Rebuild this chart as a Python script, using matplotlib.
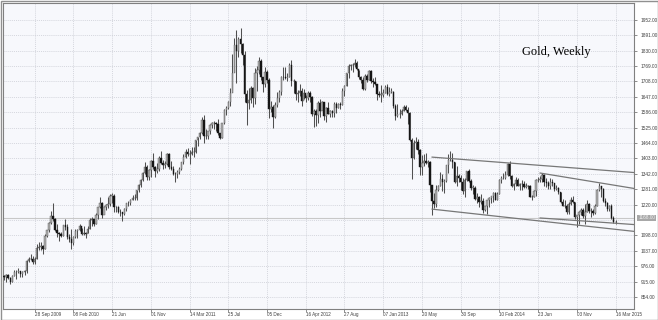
import matplotlib
matplotlib.use("Agg")
import matplotlib.pyplot as plt
from matplotlib.patches import Rectangle

# ---------------- data (weekly bars, 15 Jun 2009 .. 16 Mar 2015) ----------------
closes = [
    932, 940, 930, 913, 937, 953, 954, 956, 947, 953, 956, 996, 1006, 1005, 991,
    1003, 1049, 1051, 1057, 1045, 1095, 1118, 1147, 1175, 1161, 1118, 1108, 1104, 1096,
    # 2010
    1138, 1131, 1092, 1082, 1066, 1092, 1116, 1118, 1134, 1102, 1107, 1105, 1125,
    1160, 1161, 1142, 1180, 1209, 1228, 1177, 1212, 1218, 1222, 1256, 1256, 1210,
    1209, 1190, 1189, 1182, 1204, 1226, 1228, 1237, 1246, 1246, 1276, 1296, 1318,
    1345, 1369, 1328, 1358, 1394, 1367, 1353, 1362, 1406, 1385, 1376, 1379, 1421,
    # 2011
    1369, 1361, 1342, 1340, 1349, 1360, 1388, 1410, 1429, 1421, 1420, 1428, 1429,
    1474, 1487, 1504, 1556, 1491, 1492, 1511, 1536, 1542, 1543, 1539, 1502, 1483,
    1542, 1593, 1601, 1628, 1663, 1742, 1853, 1828, 1876, 1855, 1814, 1657, 1621,
    1635, 1683, 1643, 1742, 1755, 1788, 1724, 1696, 1746, 1712, 1598, 1605, 1566,
    # 2012
    1616, 1641, 1665, 1726, 1725, 1723, 1725, 1774, 1710, 1710, 1659, 1663, 1669,
    1632, 1660, 1643, 1663, 1645, 1580, 1592, 1573, 1622, 1591, 1628, 1572, 1604,
    1580, 1590, 1581, 1618, 1604, 1619, 1616, 1671, 1690, 1740, 1770, 1773, 1772,
    1782, 1758, 1724, 1712, 1676, 1731, 1714, 1751, 1711, 1705, 1696, 1657, 1656, 1656,
    # 2013
    1662, 1687, 1658, 1667, 1667, 1610, 1572, 1577, 1577, 1592, 1606, 1596,
    1581, 1477, 1405, 1463, 1468, 1437, 1367, 1386, 1392, 1383, 1387, 1296, 1234,
    1223, 1277, 1295, 1322, 1309, 1312, 1377, 1395, 1396, 1387, 1308, 1333, 1326, 1311,
    1273, 1316, 1352, 1315, 1287, 1287, 1244, 1250, 1230, 1235, 1197, 1214, 1237,
    # 2014
    1247, 1254, 1264, 1240, 1263, 1318, 1325, 1327, 1338, 1379, 1333, 1294, 1302,
    1318, 1294, 1300, 1300, 1290, 1293, 1292, 1250, 1252, 1274, 1316, 1316, 1320,
    1337, 1310, 1307, 1293, 1310, 1305, 1281, 1287, 1268, 1231, 1216, 1214, 1192,
    1222, 1238, 1231, 1171, 1177, 1190, 1198, 1175, 1190, 1222, 1195, 1195, 1187,
    # 2015
    1216, 1277, 1293, 1283, 1234, 1227, 1203, 1213, 1166, 1152, 1152,
]
highs = [
    942, 945, 946, 933, 942, 960, 959, 970, 955, 958, 960, 999, 1011, 1025, 1018,
    1012, 1062, 1070, 1072, 1059, 1102, 1121, 1150, 1195, 1226, 1166, 1143, 1111, 1111,
    1139, 1162, 1145, 1102, 1125, 1094, 1125, 1125, 1142, 1126, 1136, 1110, 1135,
    1167, 1170, 1156, 1185, 1210, 1249, 1232, 1215, 1222, 1251, 1260, 1265, 1262,
    1214, 1215, 1201, 1191, 1208, 1227, 1236, 1243, 1258, 1261, 1278, 1300, 1321,
    1349, 1388, 1377, 1361, 1398, 1425, 1373, 1383, 1412, 1432, 1397, 1392, 1424,
    1423, 1393, 1372, 1348, 1358, 1369, 1390, 1419, 1440, 1445, 1435, 1447, 1448,
    1476, 1487, 1508, 1566, 1576, 1519, 1513, 1539, 1549, 1550, 1548, 1558, 1505,
    1544, 1597, 1610, 1632, 1681, 1815, 1880, 1912, 1885, 1921, 1860, 1830, 1675,
    1680, 1689, 1685, 1760, 1770, 1803, 1796, 1720, 1764, 1752, 1723, 1631, 1613,
    1627, 1665, 1675, 1731, 1763, 1765, 1741, 1781, 1792, 1717, 1711, 1672, 1696,
    1681, 1676, 1656, 1669, 1669, 1649, 1598, 1597, 1632, 1640, 1630, 1627, 1605,
    1626, 1595, 1595, 1625, 1625, 1624, 1625, 1680, 1693, 1740, 1777, 1778, 1782,
    1796, 1787, 1755, 1731, 1725, 1737, 1738, 1755, 1754, 1723, 1725, 1696, 1670, 1693,
    1678, 1694, 1697, 1684, 1682, 1671, 1617, 1620, 1597, 1597, 1615, 1613,
    1605, 1588, 1485, 1476, 1487, 1480, 1440, 1416, 1420, 1424, 1395, 1392, 1299,
    1267, 1298, 1299, 1348, 1343, 1323, 1378, 1420, 1434, 1423, 1387, 1373, 1342, 1338,
    1325, 1327, 1355, 1361, 1323, 1297, 1295, 1264, 1253, 1261, 1248, 1216, 1240,
    1251, 1256, 1270, 1270, 1268, 1320, 1332, 1345, 1355, 1384, 1392, 1339, 1306,
    1331, 1327, 1306, 1316, 1315, 1306, 1299, 1296, 1257, 1279, 1322, 1330, 1332,
    1345, 1340, 1325, 1312, 1324, 1320, 1305, 1297, 1290, 1270, 1242, 1237, 1223,
    1231, 1250, 1255, 1232, 1177, 1196, 1208, 1205, 1222, 1238, 1225, 1205, 1202,
    1224, 1283, 1307, 1295, 1285, 1245, 1230, 1220, 1223, 1176, 1160,
]
lows = [
    922, 913, 925, 904, 915, 936, 927, 950, 935, 933, 940, 950, 991, 1002, 985,
    986, 1004, 1042, 1041, 1025, 1043, 1091, 1113, 1143, 1155, 1116, 1090, 1074, 1091,
    1094, 1120, 1085, 1072, 1044, 1058, 1086, 1086, 1114, 1101, 1098, 1088, 1107,
    1122, 1134, 1135, 1145, 1163, 1205, 1166, 1183, 1197, 1207, 1216, 1225, 1192,
    1189, 1185, 1176, 1157, 1180, 1194, 1213, 1220, 1240, 1237, 1240, 1271, 1290,
    1313, 1342, 1316, 1318, 1328, 1360, 1331, 1347, 1355, 1380, 1360, 1366, 1375,
    1360, 1358, 1338, 1309, 1324, 1342, 1356, 1382, 1405, 1413, 1381, 1418, 1408,
    1426, 1452, 1480, 1500, 1462, 1478, 1478, 1500, 1522, 1521, 1512, 1495, 1478,
    1483, 1540, 1576, 1598, 1612, 1675, 1746, 1702, 1806, 1822, 1771, 1627, 1535,
    1600, 1623, 1605, 1620, 1668, 1738, 1713, 1667, 1685, 1700, 1562, 1588, 1523,
    1564, 1606, 1628, 1656, 1714, 1718, 1708, 1724, 1689, 1662, 1635, 1627, 1652,
    1612, 1637, 1626, 1634, 1625, 1572, 1527, 1532, 1545, 1565, 1593, 1555, 1548,
    1578, 1565, 1567, 1565, 1584, 1603, 1598, 1614, 1651, 1689, 1723, 1754, 1745,
    1766, 1754, 1717, 1700, 1673, 1672, 1706, 1714, 1700, 1684, 1692, 1635, 1648, 1626,
    1645, 1660, 1655, 1650, 1660, 1601, 1554, 1565, 1562, 1576, 1591, 1590,
    1539, 1473, 1321, 1400, 1442, 1420, 1338, 1338, 1373, 1379, 1367, 1268, 1180,
    1207, 1212, 1275, 1292, 1274, 1267, 1310, 1346, 1394, 1364, 1306, 1292, 1309, 1277,
    1261, 1251, 1313, 1310, 1277, 1262, 1240, 1227, 1211, 1224, 1185, 1194, 1182,
    1212, 1226, 1232, 1238, 1240, 1262, 1307, 1322, 1320, 1334, 1320, 1288, 1278,
    1293, 1292, 1278, 1277, 1284, 1284, 1281, 1250, 1240, 1250, 1254, 1309, 1309,
    1310, 1292, 1289, 1282, 1281, 1292, 1273, 1277, 1262, 1227, 1213, 1205, 1183,
    1184, 1220, 1226, 1161, 1131, 1145, 1180, 1165, 1142, 1190, 1185, 1170, 1178,
    1184, 1215, 1275, 1250, 1231, 1216, 1194, 1194, 1164, 1147, 1142,
]
first_open = 936
first_week = -15          # weeks relative to 28 Sep 2009

tick_weeks = [0, 19, 38, 57, 76, 95, 114, 133, 152, 171, 190, 209, 228, 247, 266, 285]
tick_labels = ["28 Sep 2009", "08 Feb 2010", "21 Jun", "01 Nov", "14 Mar 2011", "25 Jul",
               "05 Dec", "16 Apr 2012", "27 Aug", "07 Jan 2013", "20 May", "30 Sep",
               "10 Feb 2014", "23 Jun", "03 Nov", "16 Mar 2015"]
price_ticks = [1952, 1891, 1830, 1769, 1708, 1647, 1586, 1525, 1464, 1403, 1342,
               1281, 1220, 1098, 1037, 976, 915, 854]
current_price = 1168.0
title_text = "Gold, Weekly"

# trend lines: (week, price) pairs
trend_lines = [
    [(195, 1408), (294, 1347)],
    [(195, 1202), (294, 1114)],
    [(248, 1345), (294, 1284)],
    [(248, 1167), (294, 1141)],
]

# ---------------- drawing ----------------
W, H = 658, 320
fig = plt.figure(figsize=(W / 100, H / 100), dpi=100, facecolor="white")
ax = fig.add_axes([3 / W, 1 - 309 / H, (634 - 3) / W, (309 - 3) / H])
ax.set_facecolor("#f7f8fc")

n = len(closes)
weeks = list(range(first_week, first_week + n))
opens = [first_open] + closes[:-1]

wick_col = "#505050"
for wk, o, h, l, c in zip(weeks, opens, highs, lows, closes):
    ax.vlines(wk, l, h, color=wick_col, linewidth=0.75, zorder=3)
    lo, hi = min(o, c), max(o, c)
    if hi - lo < 1:
        hi = lo + 1
    up = c >= o
    ax.add_patch(Rectangle((wk - 0.35, lo), 0.7, hi - lo,
                           facecolor="#b0b0b0" if up else "#151515",
                           edgecolor="#505050" if up else "#151515",
                           linewidth=0.3, zorder=4))

for seg in trend_lines:
    (x0, y0), (x1, y1) = seg
    ax.plot([x0, x1], [y0, y1], color="#777777", linewidth=0.9, zorder=5)

ax.axhline(current_price, color="#c8c8c8", linewidth=0.8, zorder=2)

ax.set_xlim(-15.55, 294.06)
ax.set_ylim(806.5, 2018.4)

# grid
for p in price_ticks + [1159]:
    ax.axhline(p, color="#c9cbd3", linewidth=0.5, linestyle=(0, (1.5, 1.5)), zorder=1)
for t in tick_weeks:
    ax.axvline(t, color="#c9cbd3", linewidth=0.5, linestyle=(0, (1.5, 1.5)), zorder=1)

ax.yaxis.tick_right()
ax.set_yticks(price_ticks)
ax.set_yticklabels([f"{p:.2f}" for p in price_ticks])
ax.set_xticks(tick_weeks)
ax.set_xticklabels(tick_labels)
ax.tick_params(axis="y", length=2.5, width=0.5, color="#606060", pad=2.5,
               labelsize=3.4, labelcolor="#404040")
ax.tick_params(axis="x", length=2.0, width=0.5, color="#606060", pad=0.2,
               labelsize=3.3, labelcolor="#404040")
for lab in ax.get_yticklabels() + ax.get_xticklabels():
    lab.set_fontfamily("Liberation Sans")
for lab in ax.get_xticklabels():
    lab.set_horizontalalignment("left")

for s in ax.spines.values():
    s.set_color("#808080")
    s.set_linewidth(0.8)

# current price label box
ax.annotate(f"{current_price:.2f}", xy=(1, current_price), xycoords=("axes fraction", "data"),
            xytext=(3.0, 0), textcoords="offset points", va="center", ha="left",
            fontsize=3.4, family="Liberation Sans", color="#f0f0f0",
            bbox=dict(boxstyle="square,pad=0.15", facecolor="#a8a8a8", edgecolor="none"),
            annotation_clip=False)

ax.text(0.931, 0.84, title_text, transform=ax.transAxes, ha="right", va="center",
        fontsize=9, family="Liberation Serif", color="#000000")

# outer border
fig.patches.append(Rectangle((0.5 / W, 0.5 / H), 1 - 1 / W, 1 - 1 / H, transform=fig.transFigure,
                             fill=False, edgecolor="#909090", linewidth=1.0))

fig.savefig("out.png", dpi=100, facecolor="white")
